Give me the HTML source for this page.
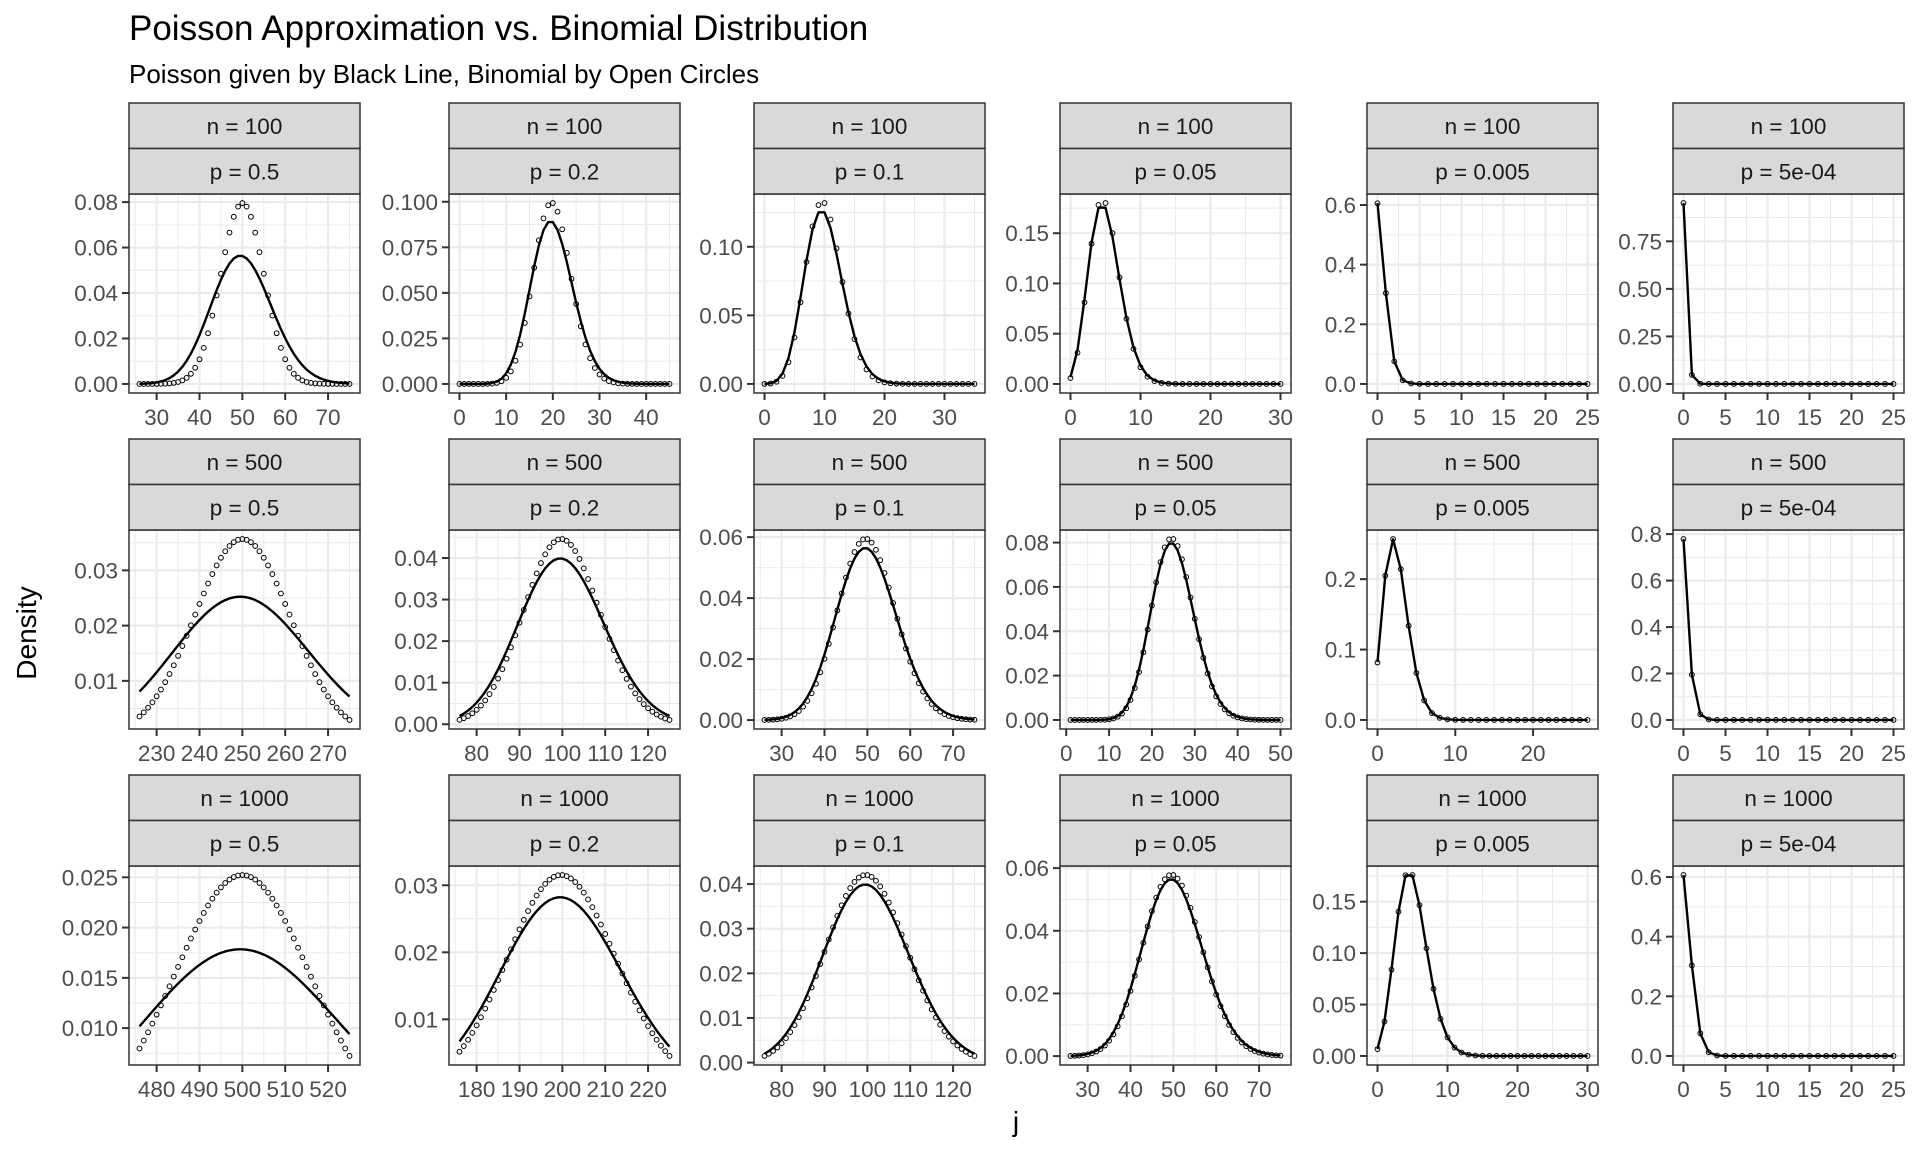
<!DOCTYPE html>
<html><head><meta charset="utf-8"><style>
html,body{margin:0;padding:0;background:#fff;}
svg{display:block;font-family:"Liberation Sans",Arial,sans-serif;}
</style></head><body>
<svg id="chart" width="1920" height="1152" viewBox="0 0 1920 1152">
<text x="129" y="40" font-size="35" fill="#000">Poisson Approximation vs. Binomial Distribution</text>
<text x="129" y="83" font-size="26" fill="#000">Poisson given by Black Line, Binomial by Open Circles</text>
<text transform="translate(36,633) rotate(-90)" text-anchor="middle" font-size="28" fill="#000">Density</text>
<text x="1016" y="1131" text-anchor="middle" font-size="28" fill="#000">j</text>
<g id="panels"></g>
</svg>
<script>
// data: panel parameters (row-major)
const nValues = [100,100,100,100,100,100, 500,500,500,500,500,500, 1000,1000,1000,1000,1000,1000];
const pValues = [0.5,0.2,0.1,0.05,0.005,0.0005, 0.5,0.2,0.1,0.05,0.005,0.0005, 0.5,0.2,0.1,0.05,0.005,0.0005];
const pLabels = ["0.5","0.2","0.1","0.05","0.005","5e-04"];
const jMin = [26,0,0,0,0,0, 226,76,26,1,0,0, 476,176,76,26,0,0];
const jMax = [75,45,35,30,25,25, 275,125,75,50,27,25, 525,225,125,75,30,25];
const yTicks = [
 [0,0.02,0.04,0.06,0.08],[0,0.025,0.05,0.075,0.1],[0,0.05,0.1],[0,0.05,0.1,0.15],[0,0.2,0.4,0.6],[0,0.25,0.5,0.75],
 [0.01,0.02,0.03],[0,0.01,0.02,0.03,0.04],[0,0.02,0.04,0.06],[0,0.02,0.04,0.06,0.08],[0,0.1,0.2],[0,0.2,0.4,0.6,0.8],
 [0.01,0.015,0.02,0.025],[0.01,0.02,0.03],[0,0.01,0.02,0.03,0.04],[0,0.02,0.04,0.06],[0,0.05,0.1,0.15],[0,0.2,0.4,0.6]];
const yDigits = [2,3,2,2,1,2, 2,2,2,2,1,1, 3,2,2,2,2,1];
const xTicks = [
 [30,40,50,60,70],[0,10,20,30,40],[0,10,20,30],[0,10,20,30],[0,5,10,15,20,25],[0,5,10,15,20,25],
 [230,240,250,260,270],[80,90,100,110,120],[30,40,50,60,70],[0,10,20,30,40,50],[0,10,20],[0,5,10,15,20,25],
 [480,490,500,510,520],[180,190,200,210,220],[80,90,100,110,120],[30,40,50,60,70],[0,10,20,30],[0,5,10,15,20,25]];

const colLeft = [129,449,754,1060,1367,1673];
const PW = 231, rowTop = [103,439,775], STRIP = 45.5, PH = 199;
const FS = 22.5;
const NS = "http://www.w3.org/2000/svg";
const logFact = [0];
for (let i = 1; i <= 1001; i++) logFact[i] = logFact[i-1] + Math.log(i);
function binom(n,p,k){return Math.exp(logFact[n]-logFact[k]-logFact[n-k]+k*Math.log(p)+(n-k)*Math.log(1-p));}
function pois(l,k){return Math.exp(-l+k*Math.log(l)-logFact[k]);}
function mk(tag, attrs, parent){const e=document.createElementNS(NS,tag);for(const k in attrs)e.setAttribute(k,attrs[k]);parent.appendChild(e);return e;}
const root = document.getElementById('panels');
for (let i = 0; i < 18; i++) {
  const r = Math.floor(i/6), c = i%6;
  const n = nValues[i], p = pValues[i];
  const L = colLeft[c], T = rowTop[r] + 2*STRIP, B = T + PH, R = L + PW;
  const g = mk('g', {}, root);
  
  
  const js = [], bv = [], pv = [];
  for (let j = jMin[i]; j <= jMax[i]; j++) { js.push(j); bv.push(binom(n,p,j)); pv.push(pois(n*p,j)); }
  const all = bv.concat(pv);
  let ymin = Math.min(...all), ymax = Math.max(...all);
  const ye = (ymax-ymin)*0.05; ymin -= ye; ymax += ye;
  const xr = jMax[i]-jMin[i], xe = xr*0.05, xmin = jMin[i]-xe, xmax = jMax[i]+xe;
  const sx = v => L + (v - xmin)/(xmax - xmin)*PW;
  const sy = v => B - (v - ymin)/(ymax - ymin)*PH;
  mk('rect', {x:L,y:T,width:PW,height:PH,fill:'#fff'}, g);
  const xt = xTicks[i], yt = yTicks[i];
  const xs = xt[1]-xt[0], ys = yt[1]-yt[0];
  for (let v = xt[0]-xs/2; v <= xmax; v += xs) if (v >= xmin) mk('line',{x1:sx(v),x2:sx(v),y1:T,y2:B,stroke:'#ebebeb','stroke-width':1}, g);
  for (let v = yt[0]-ys/2; v <= ymax; v += ys) if (v >= ymin) mk('line',{x1:L,x2:R,y1:sy(v),y2:sy(v),stroke:'#ebebeb','stroke-width':1}, g);
  xt.forEach(v => mk('line',{x1:sx(v),x2:sx(v),y1:T,y2:B,stroke:'#ebebeb','stroke-width':2.2}, g));
  yt.forEach(v => mk('line',{x1:L,x2:R,y1:sy(v),y2:sy(v),stroke:'#ebebeb','stroke-width':2.2}, g));
  const line = mk('polyline', {points: js.map((j,k)=>sx(j).toFixed(2)+','+sy(pv[k]).toFixed(2)).join(' '), fill:'none', stroke:'#000','stroke-width':2.4,'stroke-linejoin':'round'}, g);
  
  
  js.forEach((j,k) => {
    const cc = mk('circle', {cx:sx(j).toFixed(2), cy:sy(bv[k]).toFixed(2), r:2.4, fill:'none', stroke:'#000','stroke-width':1}, g);
    
    
  });
  mk('rect', {x:L,y:T,width:PW,height:PH,fill:'none',stroke:'#333','stroke-width':1.5}, g);
  const labels = ['n = ' + n, 'p = ' + pLabels[c]];
  labels.forEach((t, s) => {
    const sy0 = rowTop[r] + s*STRIP;
    const sr = mk('rect', {x:L,y:sy0,width:PW,height:STRIP,fill:'#d9d9d9',stroke:'#333','stroke-width':1.5}, g);
    
    
    const tx = mk('text', {x:L+PW/2, y:sy0+31, 'text-anchor':'middle','font-size':FS, fill:'#1a1a1a'}, g);
    tx.textContent = t;
  });
  xt.forEach(v => {
    mk('line',{x1:sx(v),x2:sx(v),y1:B,y2:B+7,stroke:'#333','stroke-width':2}, g);
    const tx = mk('text',{x:sx(v),y:B+32,'text-anchor':'middle','font-size':FS,fill:'#4d4d4d'}, g);
    
    
    tx.textContent = String(v);
  });
  yt.forEach(v => {
    mk('line',{x1:L-7,x2:L,y1:sy(v),y2:sy(v),stroke:'#333','stroke-width':2}, g);
    const tx = mk('text',{x:L-11,y:sy(v)+8,'text-anchor':'end','font-size':FS,fill:'#4d4d4d'}, g);
    
    
    tx.textContent = v.toFixed(yDigits[i]);
  });
}
</script>
</body></html>
